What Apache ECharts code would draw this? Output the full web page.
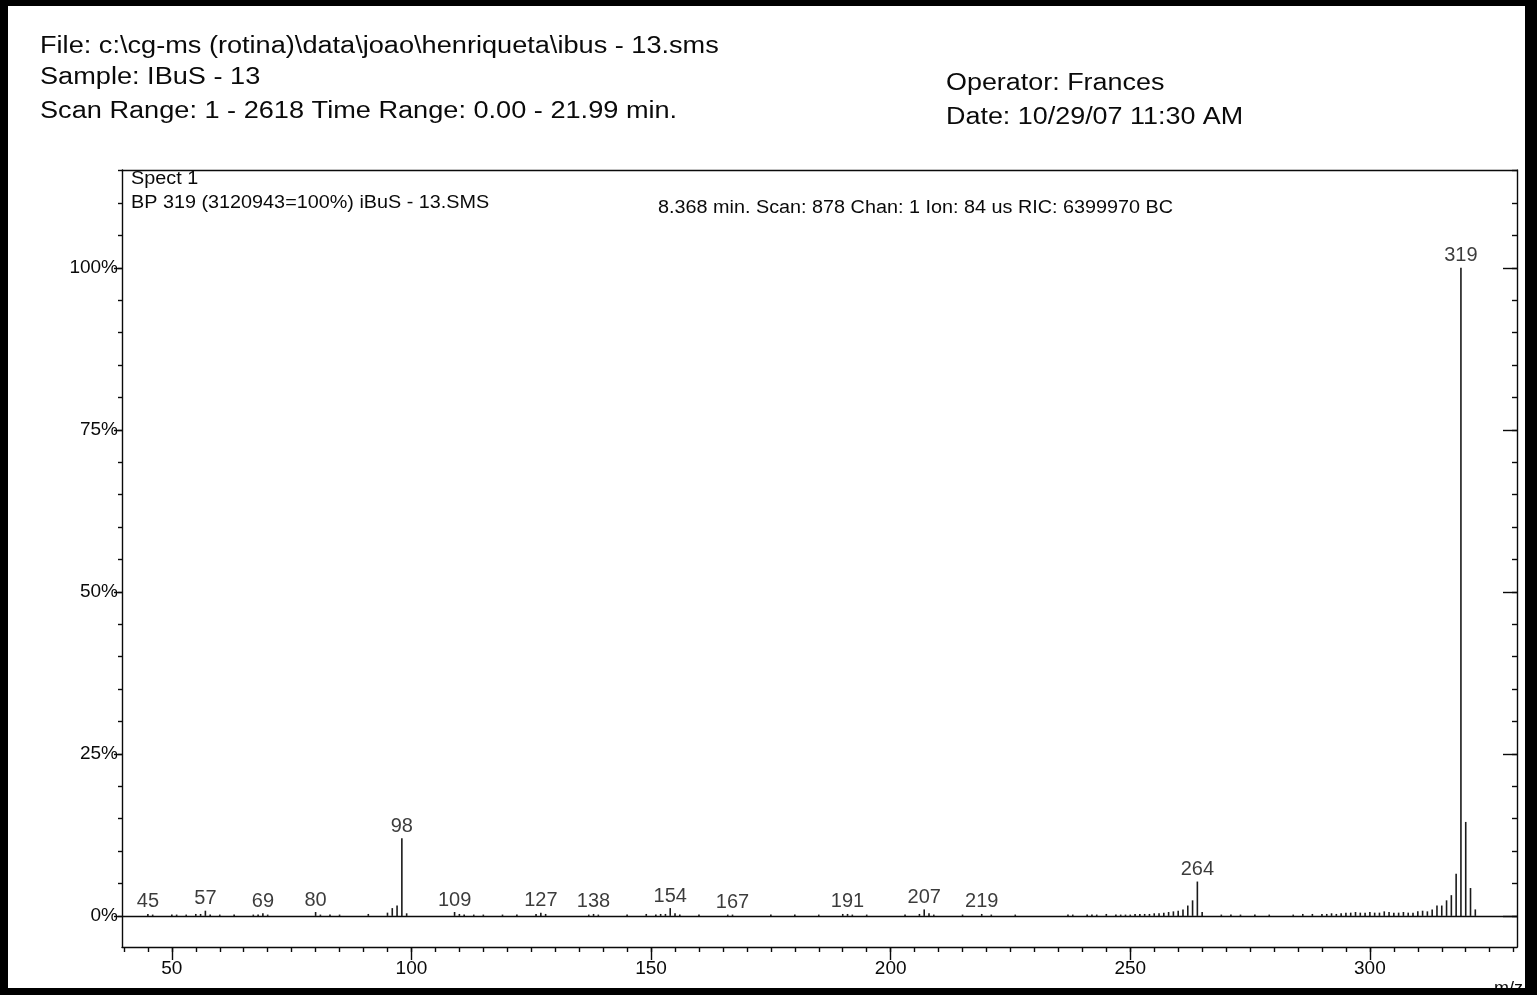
<!DOCTYPE html>
<html>
<head>
<meta charset="utf-8">
<script src="https://cdn.jsdelivr.net/npm/echarts@6/dist/echarts.min.js"></script>
<style>
  html, body { margin: 0; padding: 0; background: #fff; }
  #wrap { position: relative; width: 1537px; height: 995px; }
  #chart { position: absolute; left: 0; top: 0; width: 1537px; height: 995px; }
  #frame { position: absolute; left: 0; top: 0; width: 1537px; height: 995px; box-sizing: border-box;
           border-style: solid; border-color: #000; border-width: 6px 12px 7px 8px; pointer-events: none; z-index: 10; }
</style>
</head>
<body>
<div id="wrap"><div id="chart"></div><div id="frame"></div></div>
<script>
// ---- data ----
const mzValues = [
  45, 46, 50, 51, 53, 55, 56, 57, 58, 60, 63, 67, 68, 69, 70, 80, 81, 83, 85, 91, 95, 96, 97, 98, 99,
  109, 110, 111, 113, 115, 119, 122, 126, 127, 128, 137, 138, 139, 145, 149, 151, 152, 153, 154, 155, 156,
  160, 166, 167, 175, 180, 185, 190, 191, 192, 195, 203, 206, 207, 208, 209, 215, 219, 221, 226,
  237, 238, 241, 242, 243, 245, 247, 248, 249, 250, 251, 252, 253, 254, 255, 256, 257, 258, 259, 260,
  261, 262, 263, 264, 265, 269, 271, 273, 276, 279, 284, 286, 288, 290, 291, 292, 293, 294, 295, 296,
  297, 298, 299, 300, 301, 302, 303, 304, 305, 306, 307, 308, 309, 310, 311, 312, 313, 314, 315, 316,
  317, 318, 319, 320, 321, 322
];
const intensities = [
  0.3, 0.2, 0.2, 0.2, 0.2, 0.3, 0.3, 0.8, 0.2, 0.2, 0.2, 0.2, 0.2, 0.4, 0.2, 0.6, 0.2, 0.2, 0.2, 0.3, 0.5, 1.2, 1.6, 12.0, 0.4,
  0.6, 0.3, 0.2, 0.2, 0.2, 0.2, 0.2, 0.3, 0.5, 0.3, 0.2, 0.3, 0.2, 0.2, 0.3, 0.2, 0.3, 0.3, 1.2, 0.4, 0.2,
  0.2, 0.2, 0.2, 0.2, 0.2, 0.2, 0.3, 0.3, 0.2, 0.2, 0.2, 0.3, 1.0, 0.4, 0.2, 0.2, 0.3, 0.2, 0.2,
  0.2, 0.2, 0.2, 0.2, 0.2, 0.3, 0.2, 0.2, 0.2, 0.2, 0.3, 0.3, 0.3, 0.3, 0.4, 0.4, 0.5, 0.6, 0.7, 0.8,
  1.0, 1.6, 2.4, 5.3, 0.6, 0.2, 0.2, 0.2, 0.2, 0.2, 0.2, 0.3, 0.3, 0.3, 0.3, 0.4, 0.3, 0.4, 0.5, 0.5,
  0.6, 0.5, 0.5, 0.6, 0.5, 0.5, 0.7, 0.6, 0.5, 0.5, 0.6, 0.5, 0.5, 0.7, 0.8, 0.7, 1.0, 1.6, 1.6, 2.4,
  3.2, 6.5, 100, 14.5, 4.3, 1.0
];
const labeledPeaks = [45, 57, 69, 80, 98, 109, 127, 138, 154, 167, 191, 207, 219, 264, 319];
const xTickLabels = [50, 100, 150, 200, 250, 300];
const yTickLabels = [0, 25, 50, 75, 100];
const headerLeft = [
  'File: c:\\cg-ms (rotina)\\data\\joao\\henriqueta\\ibus - 13.sms',
  'Sample: IBuS - 13',
  'Scan Range: 1 - 2618 Time Range: 0.00 - 21.99 min.'
];
const headerRight = ['Operator: Frances', 'Date: 10/29/07 11:30 AM'];
const spectLines = ['Spect 1', 'BP 319 (3120943=100%) iBuS - 13.SMS'];
const scanInfo = '8.368 min. Scan: 878 Chan: 1 Ion: 84 us RIC: 6399970 BC';

// ---- derived ----
const X_MIN = 39.6, X_MAX = 330.7, Y_MIN = -4.8, Y_MAX = 115.1;
const spectrum = mzValues.map((m, i) => [m, intensities[i]]);
const labelData = labeledPeaks.map(m => [m, intensities[mzValues.indexOf(m)]]);
const xMinorTicks = []; for (let v = 40; v <= 330; v += 5) xMinorTicks.push(v);
const yMinorTicks = []; for (let v = 0; v <= 115; v += 5) yMinorTicks.push(v);

const INK = '#0a0a0a';
const FONT = '"Liberation Sans", Arial, sans-serif';

function txt(x, y, s, size, sx) {
  return { type: 'text', x: x, y: y, scaleX: sx, z: 100,
    style: { text: s, fill: INK, font: size + 'px ' + FONT, textAlign: 'left',
             textVerticalAlign: 'middle', verticalAlign: 'middle' } };
}

const graphics = [
  txt(40, 47, headerLeft[0], 23, 1.18),
  txt(40, 78, headerLeft[1], 23, 1.18),
  txt(40, 112, headerLeft[2], 23, 1.18),
  txt(946, 84, headerRight[0], 23, 1.17),
  txt(946, 118, headerRight[1], 23, 1.17),
  txt(131, 179, spectLines[0], 18, 1.1),
  txt(131, 203, spectLines[1], 18, 1.1),
  txt(658, 208, scanInfo, 18, 1.1),
  txt(1494, 989, 'm/z', 18, 1.0)
];

const chart = echarts.init(document.getElementById('chart'), null, { renderer: 'canvas' });
const lineStyle = { color: INK, width: 1.4 };
chart.setOption({
  backgroundColor: '#fff',
  animation: false,
  grid: { left: 122, right: 20, top: 170, bottom: 48, containLabel: false },
  xAxis: [
    { type: 'value', position: 'bottom', min: X_MIN, max: X_MAX,
      axisLine: { show: true, onZero: false, lineStyle: lineStyle },
      axisTick: { show: true, inside: false, length: 5, customValues: xMinorTicks, lineStyle: lineStyle },
      axisLabel: { show: true, customValues: xTickLabels, color: INK, fontSize: 19, fontFamily: FONT, margin: 12 },
      splitLine: { show: false } },
    { type: 'value', position: 'bottom', min: X_MIN, max: X_MAX,
      axisLine: { show: false, onZero: false },
      axisTick: { show: true, inside: false, length: 13, customValues: xTickLabels, lineStyle: lineStyle },
      axisLabel: { show: false }, splitLine: { show: false } },
    { type: 'value', position: 'top', min: X_MIN, max: X_MAX,
      axisLine: { show: true, onZero: false, lineStyle: lineStyle },
      axisTick: { show: false }, axisLabel: { show: false }, splitLine: { show: false } }
  ],
  yAxis: [
    { type: 'value', position: 'left', min: Y_MIN, max: Y_MAX,
      axisLine: { show: true, onZero: false, lineStyle: lineStyle },
      axisTick: { show: true, inside: false, length: 4, customValues: yMinorTicks, lineStyle: lineStyle },
      axisLabel: { show: true, customValues: yTickLabels, formatter: '{value}%', color: INK,
                   fontSize: 19, fontFamily: FONT, margin: 4 },
      splitLine: { show: false } },
    { type: 'value', position: 'left', min: Y_MIN, max: Y_MAX,
      axisLine: { show: false, onZero: false },
      axisTick: { show: true, inside: false, length: 8, customValues: yTickLabels, lineStyle: lineStyle },
      axisLabel: { show: false }, splitLine: { show: false } },
    { type: 'value', position: 'right', min: Y_MIN, max: Y_MAX,
      axisLine: { show: true, onZero: false, lineStyle: lineStyle },
      axisTick: { show: true, inside: true, length: 5, customValues: yMinorTicks, lineStyle: lineStyle },
      axisLabel: { show: false }, splitLine: { show: false } },
    { type: 'value', position: 'right', min: Y_MIN, max: Y_MAX,
      axisLine: { show: false, onZero: false },
      axisTick: { show: true, inside: true, length: 14, customValues: yTickLabels, lineStyle: lineStyle },
      axisLabel: { show: false }, splitLine: { show: false } }
  ],
  series: [
    { type: 'bar', name: 'spectrum', xAxisIndex: 0, yAxisIndex: 0, data: spectrum,
      barWidth: 1.6, itemStyle: { color: '#1a1a1a' }, silent: true,
      markLine: { silent: true, symbol: ['none', 'none'], label: { show: false },
                  lineStyle: { color: INK, width: 1.3, type: 'solid' },
                  data: [{ yAxis: 0 }] } },
    { type: 'scatter', name: 'labels', xAxisIndex: 0, yAxisIndex: 0, data: labelData,
      symbolSize: 0, silent: true,
      label: { show: true, position: 'top', distance: 2, color: INK, fontSize: 20, fontFamily: FONT,
               formatter: p => String(p.value[0]) } }
  ],
  graphic: graphics
});
</script>
</body>
</html>
